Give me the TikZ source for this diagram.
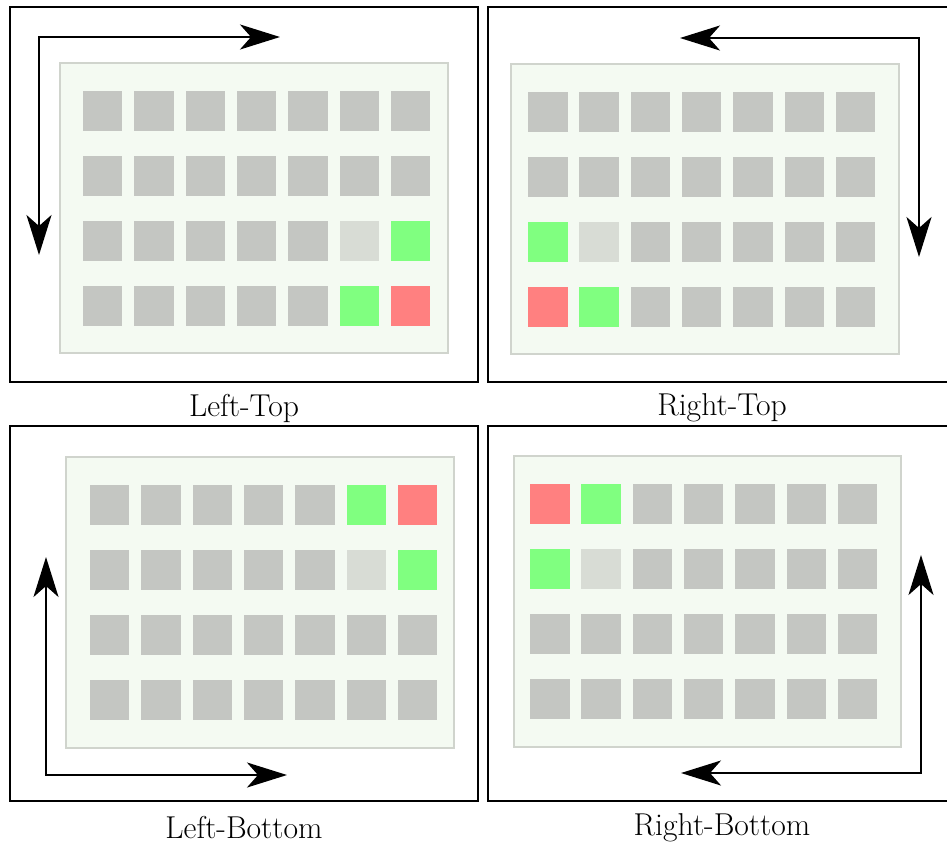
\documentclass[tikz,border=0pt]{standalone}
\usetikzlibrary{arrows.meta,positioning}
\definecolor{cellgray}{RGB}{196,198,194}
\definecolor{celllight}{RGB}{216,220,213}
\definecolor{cellgreen}{RGB}{128,255,128}
\definecolor{cellred}{RGB}{255,128,128}
\definecolor{gridfill}{RGB}{244,250,242}
\definecolor{gridline}{RGB}{208,212,205}

% 7x4 cells; #1 = offset of the first column inside the board
\newcommand\cellgrid[1]{%
  \foreach \c in {0,...,6}{
    \foreach \r in {0,...,3}{
      \node[cell, tone-\r-\c/.try] (cell-\r-\c) at ({#1+19.75+51.3*\c},{47.75+65*\r}) {};
    }
  }
}

\begin{document}
\begin{tikzpicture}[x=0.02cm, y=-0.02cm,
    frame/.style={draw=black, line width=1.2pt},
    board/.style={draw=gridline, fill=gridfill, line width=0.9pt},
    cell/.style={rectangle, fill=cellgray, minimum size=0.79cm, inner sep=0pt},
    arrow/.style={{Stealth[length=0.8cm, width=0.5cm, inset=0.22cm]}-{Stealth[length=0.8cm, width=0.5cm, inset=0.22cm]}, line width=1.4pt, draw=black},
    caption/.style={font=\fontsize{18}{22}\selectfont}
]
\useasboundingbox (0,0) rectangle (947,843);

% Left-Top
\draw[frame] (10,7) rectangle (478,382);
\begin{scope}[shift={(60,63)}, name prefix=lt-,
    tone-2-5/.style={fill=celllight}, tone-2-6/.style={fill=cellgreen},
    tone-3-5/.style={fill=cellgreen}, tone-3-6/.style={fill=cellred}]
  \draw[board] (0,0) rectangle (388,290);
  \cellgrid{23}
\end{scope}
\coordinate (lt-corner) at (39,37);
\coordinate (lt-end-x) at (280,37);
\coordinate (lt-end-y) at (39,255);
\draw[arrow] (lt-end-x) -- (lt-corner) -- (lt-end-y);
\node[caption] (lt-label) at (244,408) {Left-Top};

% Right-Top
\draw[frame] (488,7) rectangle (948,382);
\begin{scope}[shift={(511,64)}, name prefix=rt-,
    tone-2-1/.style={fill=celllight}, tone-2-0/.style={fill=cellgreen},
    tone-3-1/.style={fill=cellgreen}, tone-3-0/.style={fill=cellred}]
  \draw[board] (0,0) rectangle (388,290);
  \cellgrid{17}
\end{scope}
\coordinate (rt-corner) at (919,38);
\coordinate (rt-end-x) at (680,38);
\coordinate (rt-end-y) at (919,257);
\draw[arrow] (rt-end-x) -- (rt-corner) -- (rt-end-y);
\node[caption] (rt-label) at (722,408) {Right-Top};

% Left-Bottom
\draw[frame] (10,426) rectangle (478,801);
\begin{scope}[shift={(66,457)}, name prefix=lb-,
    tone-1-5/.style={fill=celllight}, tone-1-6/.style={fill=cellgreen},
    tone-0-5/.style={fill=cellgreen}, tone-0-6/.style={fill=cellred}]
  \draw[board] (0,0) rectangle (388,291);
  \cellgrid{24}
\end{scope}
\coordinate (lb-corner) at (46,775);
\coordinate (lb-end-x) at (287,775);
\coordinate (lb-end-y) at (46,557);
\draw[arrow] (lb-end-y) -- (lb-corner) -- (lb-end-x);
\node[caption] (lb-label) at (244,828) {Left-Bottom};

% Right-Bottom
\draw[frame] (488,426) rectangle (948,801);
\begin{scope}[shift={(514,456)}, name prefix=rb-,
    tone-1-1/.style={fill=celllight}, tone-1-0/.style={fill=cellgreen},
    tone-0-1/.style={fill=cellgreen}, tone-0-0/.style={fill=cellred}]
  \draw[board] (0,0) rectangle (387,291);
  \cellgrid{16}
\end{scope}
\coordinate (rb-corner) at (921,773);
\coordinate (rb-end-x) at (681,773);
\coordinate (rb-end-y) at (921,555);
\draw[arrow] (rb-end-y) -- (rb-corner) -- (rb-end-x);
\node[caption] (rb-label) at (722,828) {Right-Bottom};

\end{tikzpicture}
\end{document}
